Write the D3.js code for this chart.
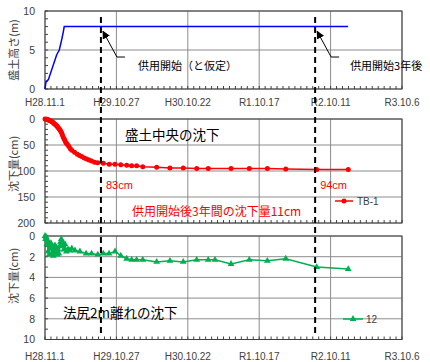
<!DOCTYPE html>
<html>
<head>
<meta charset="utf-8">
<script src="https://cdn.jsdelivr.net/npm/d3@7"></script>
<style>
  body { margin: 0; background: #fff; }
  svg { display: block; font-family: "Liberation Sans", Arial, sans-serif; }
  .jp { font-family: "Noto Sans CJK JP", sans-serif; }
</style>
</head>
<body>
<svg id="chart" width="430" height="362"></svg>
<script>
// x axis: days since H28.11.1
const xTickDays = [0, 360, 720, 1080, 1440, 1800];
const xTickLabels = ["H28.11.1", "H29.10.27", "H30.10.22", "R1.10.17", "R2.10.11", "R3.10.6"];

// service start (assumed) and 3 years after
const serviceDays = [282, 1362];

// fill height (m)
const fillDays = [0, 5, 17, 59, 72, 84, 92, 97, 1528];
const fillHeight = [0, 0.9, 1.2, 4.4, 5.0, 6.3, 7.3, 8.0, 8.0];

// TB-1 settlement (cm), centre of fill
const tb1Days = [0, 5, 9, 13, 17, 21, 25, 30, 34, 38, 42, 46, 50, 55, 59, 63, 67, 72, 76, 80, 84, 88, 92, 97, 101, 105, 109, 115, 121, 128, 135, 149, 163, 174, 185, 198, 210, 222, 235, 250, 266, 294, 324, 353, 382, 412, 437, 462, 493, 563, 630, 697, 765, 823, 938, 1030, 1121, 1214, 1370, 1529];
const tb1Settle = [0, 0.3, 0.6, 1, 2, 2.5, 3, 4, 5, 6, 7, 8.5, 10, 11.5, 13, 15, 17, 19, 21, 24, 27, 31, 35, 38.5, 42, 45, 47, 50, 53, 57, 60, 64, 68, 70, 72, 75, 77, 79, 81, 83, 84, 85, 87, 87, 88, 89, 90, 90, 92, 93, 94, 94, 95, 95, 95, 95, 95, 96, 97, 97];

// No.12 settlement (cm), 2 m from toe of slope
const p12Days = [0, 3, 6, 9, 12, 15, 18, 21, 24, 27, 30, 34, 38, 42, 46, 50, 54, 58, 62, 66, 70, 74, 78, 82, 86, 90, 95, 101, 108, 116, 125, 135, 151, 176, 207, 235, 266, 294, 323, 353, 382, 412, 437, 462, 493, 563, 630, 697, 765, 823, 857, 938, 1030, 1121, 1214, 1370, 1529];
const p12Settle = [0, 0.3, 0.1, 0.8, 0.4, 1.5, 0.6, 1.8, 0.9, 1.2, 0.7, 1.7, 1.0, 1.9, 1.2, 0.9, 1.6, 1.1, 1.8, 1.3, 1.7, 1.0, 0.6, 0.3, 0.5, 0.9, 1.3, 0.8, 1.5, 1.3, 1.4, 1.2, 1.4, 1.5, 1.7, 1.7, 1.8, 1.7, 1.7, 1.5, 1.9, 2.2, 2.3, 2.3, 2.3, 2.5, 2.4, 2.5, 2.3, 2.3, 2.3, 2.7, 2.3, 2.4, 2.2, 3.0, 3.2];

const svg = d3.select("#chart");
const x = d3.scaleLinear().domain([0, 1800]).range([45, 402]);
const GRID = "#8c8c8c", AXIS = "#404040", TXT = "#404040";

function panel(cfg) {
  const y = d3.scaleLinear().domain(cfg.domain).range(cfg.range);
  const g = svg.append("g");
  const [y0, y1] = [Math.min(...cfg.range), Math.max(...cfg.range)];

  // grid
  g.selectAll(".hg").data(cfg.ticks).enter().append("line")
    .attr("x1", x.range()[0]).attr("x2", x.range()[1])
    .attr("y1", d => y(d)).attr("y2", d => y(d))
    .attr("stroke", GRID).attr("stroke-width", 1);
  g.selectAll(".vg").data(xTickDays).enter().append("line")
    .attr("x1", d => x(d)).attr("x2", d => x(d))
    .attr("y1", y0).attr("y2", y1)
    .attr("stroke", GRID).attr("stroke-width", 1);

  // minor ticks (inward)
  const minorY = d3.range(cfg.domain[0], cfg.domain[1] + 1e-9, cfg.minor);
  g.selectAll(".my").data(minorY).enter().append("line")
    .attr("x1", x.range()[0]).attr("x2", x.range()[0] + 3)
    .attr("y1", d => y(d)).attr("y2", d => y(d))
    .attr("stroke", AXIS);
  g.selectAll(".mx").data(d3.range(0, 1801, 30)).enter().append("line")
    .attr("x1", d => x(d)).attr("x2", d => x(d))
    .attr("y1", y1).attr("y2", y1 - 3)
    .attr("stroke", AXIS);

  g.append("rect")
    .attr("x", x.range()[0]).attr("y", y0)
    .attr("width", x.range()[1] - x.range()[0]).attr("height", y1 - y0)
    .attr("fill", "none").attr("stroke", AXIS).attr("stroke-width", 1);

  // y tick labels
  g.append("g")
    .attr("transform", `translate(${x.range()[0]},0)`)
    .call(d3.axisLeft(y).tickValues(cfg.ticks).tickSize(0).tickPadding(10))
    .call(a => a.select(".domain").remove())
    .call(a => a.selectAll("text").attr("fill", TXT)
      .style("font-size", "10.5px").style("font-family", "Liberation Sans, Arial, sans-serif"));

  // y title
  g.append("text").attr("class", "jp")
    .attr("transform", `translate(13,${cfg.titleY}) rotate(-90)`)
    .attr("text-anchor", "middle").attr("dominant-baseline", "central")
    .attr("fill", TXT).style("font-size", "11px")
    .text(cfg.title);

  if (cfg.xLabels) {
    g.selectAll(".xl").data(xTickDays).enter().append("text")
      .attr("x", d => x(d)).attr("y", cfg.xLabels)
      .attr("text-anchor", "middle").attr("fill", TXT)
      .style("font-size", "10px")
      .text((d, i) => xTickLabels[i]);
  }
  return y;
}

const yTop = panel({ domain: [0, 10], range: [89, 11], ticks: [0, 5, 10], minor: 1,
  title: "盛土高さ(m)", titleY: 50, xLabels: 105.5 });
const yMid = panel({ domain: [0, 200], range: [119, 223], ticks: [0, 50, 100, 150, 200], minor: 10,
  title: "沈下量(cm)", titleY: 164 });
const yBot = panel({ domain: [0, 10], range: [236, 339.5], ticks: [0, 2, 4, 6, 8, 10], minor: 1,
  title: "沈下量(cm)", titleY: 276, xLabels: 359.5 });

// fill height line
svg.append("path")
  .datum(fillDays.map((d, i) => [d, fillHeight[i]]))
  .attr("fill", "none").attr("stroke", "#0000ff").attr("stroke-width", 1.5)
  .attr("d", d3.line().x(d => x(d[0])).y(d => yTop(d[1])));

// TB-1
const tb1 = tb1Days.map((d, i) => [d, tb1Settle[i]]);
svg.append("path").datum(tb1)
  .attr("fill", "none").attr("stroke", "#ff0000").attr("stroke-width", 1.5)
  .attr("d", d3.line().x(d => x(d[0])).y(d => yMid(d[1])));
svg.selectAll(".tb1").data(tb1).enter().append("circle")
  .attr("cx", d => x(d[0])).attr("cy", d => yMid(d[1])).attr("r", 2.5)
  .attr("fill", "#ff0000");

// No.12
const p12 = p12Days.map((d, i) => [d, p12Settle[i]]);
const tri = d3.symbol().type(d3.symbolTriangle).size(20);
svg.append("path").datum(p12)
  .attr("fill", "none").attr("stroke", "#00b050").attr("stroke-width", 1.5)
  .attr("d", d3.line().x(d => x(d[0])).y(d => yBot(d[1])));
svg.selectAll(".p12").data(p12).enter().append("path")
  .attr("transform", d => `translate(${x(d[0])},${yBot(d[1])})`)
  .attr("d", tri).attr("fill", "#00b050");

// service lines
svg.selectAll(".svc").data(serviceDays).enter().append("line")
  .attr("x1", d => x(d)).attr("x2", d => x(d))
  .attr("y1", 17).attr("y2", 334)
  .attr("stroke", "#000").attr("stroke-width", 2).attr("stroke-dasharray", "6,4");

// arrows
svg.append("defs").append("marker")
  .attr("id", "ah").attr("viewBox", "0 0 10 10").attr("refX", 9).attr("refY", 5)
  .attr("markerWidth", 8).attr("markerHeight", 8).attr("orient", "auto-start-reverse")
  .append("path").attr("d", "M0,0 L10,5 L0,10 z").attr("fill", "#000");
const arrowLabels = ["供用開始（と仮定）", "供用開始3年後"];
serviceDays.forEach((d, i) => {
  const tx = x(d) + 2, ty = yTop(7.4);
  const kx = tx + 14, ky = yTop(4.1);
  svg.append("path")
    .attr("d", `M${kx + 8},${ky} L${kx},${ky} L${tx},${ty}`)
    .attr("fill", "none").attr("stroke", "#000").attr("stroke-width", 1)
    .attr("marker-end", "url(#ah)");
  svg.append("text").attr("class", "jp")
    .attr("x", kx + 18 + (i === 1 ? 1 : 3)).attr("y", ky + 8)
    .attr("dominant-baseline", "central").attr("fill", "#000")
    .style("font-size", "11px").text(arrowLabels[i]);
});

// texts in middle panel
svg.append("text").attr("class", "jp")
  .attr("x", 125).attr("y", 134).attr("dominant-baseline", "central")
  .attr("fill", "#000").style("font-size", "13.5px").text("盛土中央の沈下");
["83cm", "94cm"].forEach((t, i) => {
  svg.append("text")
    .attr("x", x(serviceDays[i]) + 5).attr("y", 185).attr("dominant-baseline", "central")
    .attr("fill", "#ff0000").style("font-size", "11px").text(t);
});
svg.append("text").attr("class", "jp")
  .attr("x", 132).attr("y", 210).attr("dominant-baseline", "central")
  .attr("fill", "#ff0000").style("font-size", "12px").text("供用開始後3年間の沈下量11cm");

svg.append("text").attr("class", "jp")
  .attr("x", 63).attr("y", 312).attr("dominant-baseline", "central")
  .attr("fill", "#000").style("font-size", "13.5px").text("法尻2m離れの沈下");

// legends
svg.append("line").attr("x1", 335).attr("x2", 353).attr("y1", 201).attr("y2", 201)
  .attr("stroke", "#ff0000").attr("stroke-width", 1.5);
svg.append("circle").attr("cx", 344).attr("cy", 201).attr("r", 2.5).attr("fill", "#ff0000");
svg.append("text").attr("x", 357).attr("y", 201).attr("dominant-baseline", "central")
  .attr("fill", TXT).style("font-size", "10px").text("TB-1");

svg.append("line").attr("x1", 343).attr("x2", 363).attr("y1", 319).attr("y2", 319)
  .attr("stroke", "#00b050").attr("stroke-width", 1.5);
svg.append("path").attr("transform", "translate(353,319)").attr("d", tri).attr("fill", "#00b050");
svg.append("text").attr("x", 366).attr("y", 319).attr("dominant-baseline", "central")
  .attr("fill", TXT).style("font-size", "10px").text("12");
</script>
</body>
</html>
